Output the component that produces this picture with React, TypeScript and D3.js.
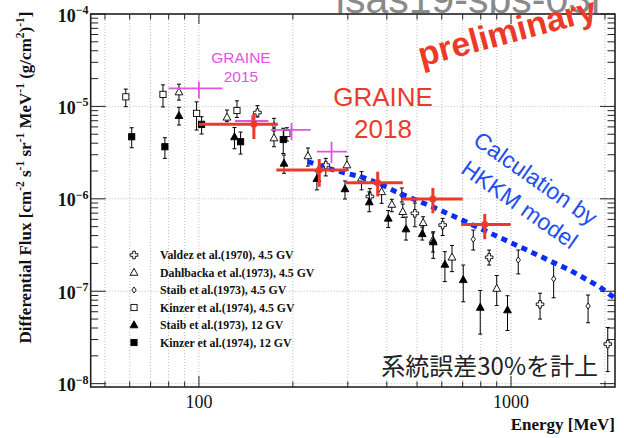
import React from "react";
import * as d3 from "d3";

const width = 624;
const height = 438;
const frame = { left: 90.7, right: 615, top: 14, bottom: 387 };

const energyRange = [45, 2154];
const fluxRange = [9.2e-9, 1e-4];
const xTickLabels = [100, 1000];
const yTickPowers = [-8, -7, -6, -5, -4];

// [E (MeV), flux, flux low, flux high]
const valdez = [
  [154, 8.59e-6, 7.68e-6, 1.02e-5],
  [255, 2.32e-6, 1.77e-6, 2.74e-6],
  [353, 1.06e-6, 9.2e-7, 1.29e-6],
  [492, 6.97e-7, 4.99e-7, 9.01e-7],
  [604, 5.2e-7, 4.01e-7, 6.15e-7],
  [851, 2.33e-7, 1.92e-7, 2.79e-7],
  [1239, 7.22e-8, 5.0e-8, 9.51e-8],
  [2042, 2.68e-8, 1.35e-8, 4.05e-8],
];
const dahlbacka = [
  [86.3, 1.43e-5, 1.17e-5, 1.74e-5],
  [123, 7.62e-6, 6.83e-6, 9.14e-6],
  [174, 4.55e-6, 3.66e-6, 5.83e-6],
  [223.5, 2.91e-6, 2.26e-6, 3.55e-6],
  [298, 2.32e-6, 2.05e-6, 2.88e-6],
  [332, 1.67e-6, 1.25e-6, 1.97e-6],
  [385, 1.19e-6, 8.94e-7, 1.41e-6],
  [415, 8.68e-7, 7.25e-7, 9.88e-7],
  [450, 7.25e-7, 6.28e-7, 8.79e-7],
  [523, 5.51e-7, 4.24e-7, 6.4e-7],
  [562, 3.58e-7, 2.66e-7, 4.27e-7],
  [647, 2.33e-7, 1.63e-7, 3.13e-7],
  [900, 1.07e-7, 7.0e-8, 1.48e-7],
];
const staib45 = [
  [174, 6.29e-6, 5.42e-6, 7.43e-6],
  [447, 1.1e-6, 9.23e-7, 1.31e-6],
  [757, 3.65e-7, 2.79e-7, 4.59e-7],
  [1055, 2.18e-7, 1.54e-7, 2.79e-7],
  [1370, 1.36e-7, 8.49e-8, 1.95e-7],
  [1766, 6.92e-8, 4.56e-8, 9.1e-8],
];
const kinzer45 = [
  [58.3, 1.27e-5, 9.93e-6, 1.54e-5],
  [76.7, 1.35e-5, 9.86e-6, 1.71e-5],
  [98.3, 8.41e-6, 5.55e-6, 1.12e-5],
  [132.4, 9.03e-6, 7.59e-6, 1.15e-5],
  [191.4, 5.09e-6, 4.22e-6, 5.88e-6],
];
const staib12 = [
  [86.3, 7.93e-6, 6.29e-6, 9.78e-6],
  [130, 4.67e-6, 3.48e-6, 5.91e-6],
  [187.3, 2.42e-6, 1.89e-6, 2.98e-6],
  [238.8, 1.65e-6, 1.25e-6, 1.97e-6],
  [293.8, 1.28e-6, 9.95e-7, 1.56e-6],
  [351.5, 9.23e-7, 7.25e-7, 1.19e-6],
  [404.3, 6.15e-7, 4.89e-7, 7.47e-7],
  [460.8, 4.71e-7, 3.58e-7, 6.35e-7],
  [519.6, 4.18e-7, 3.58e-7, 4.95e-7],
  [563.6, 3.41e-7, 2.27e-7, 4.4e-7],
  [614, 1.95e-7, 1.27e-7, 2.68e-7],
  [703, 1.33e-7, 7.69e-8, 1.92e-7],
  [797, 6.67e-8, 3.44e-8, 1.02e-7],
  [974.5, 6.26e-8, 3.76e-8, 8.94e-8],
];
const kinzer12 = [
  [60.9, 4.7e-6, 3.57e-6, 5.88e-6],
  [77.8, 3.66e-6, 2.74e-6, 4.58e-6],
  [102, 6.4e-6, 5.03e-6, 7.74e-6],
  [136, 4.15e-6, 3.05e-6, 5.28e-6],
  [186.3, 4.38e-6, 3.09e-6, 5.8e-6],
];

// [E, E low, E high, flux, flux low, flux high]
const graine2015 = [
  [100, 80, 119, 1.57e-5, 1.22e-5, 1.85e-5],
  [148, 130.5, 167, 6.95e-6, 6.0e-6, 8.0e-6],
  [198, 170, 228, 5.56e-6, 4.33e-6, 6.61e-6],
  [266, 239, 298, 3.24e-6, 2.44e-6, 4.15e-6],
];
const graine2018 = [
  [150, 100, 179, 6.4e-6, 4.44e-6, 8.5e-6],
  [243, 177, 300, 2.05e-6, 1.35e-6, 2.7e-6],
  [374, 296, 450, 1.49e-6, 1.06e-6, 1.96e-6],
  [562, 447, 700, 9.96e-7, 7.0e-7, 1.31e-6],
  [824, 692, 998, 5.27e-7, 3.65e-7, 6.84e-7],
];

// HKKM model curve
const hkkmE = [223, 257, 289, 333, 380, 431, 562, 686, 857, 1151, 1546, 1928, 2154];
const hkkmF = [2.53e-6, 2.16e-6, 1.93e-6, 1.72e-6, 1.45e-6, 1.18e-6, 8.15e-7, 6.04e-7, 4.26e-7, 2.69e-7, 1.69e-7, 1.11e-7, 8.4e-8];

const legendLabels = [
  "Valdez et al.(1970), 4.5 GV",
  "Dahlbacka et al.(1973), 4.5 GV",
  "Staib et al.(1973), 4.5 GV",
  "Kinzer et al.(1974), 4.5 GV",
  "Staib et al.(1973), 12 GV",
  "Kinzer et al.(1974), 12 GV",
];
const seriesKinds = ["cross", "openTri", "diamond", "openSq", "tri", "sq"];
const seriesData = [valdez, dahlbacka, staib45, kinzer45, staib12, kinzer12];

const serif = "'Liberation Serif', 'DejaVu Serif', serif";
const sans = "'Liberation Sans', Arial, sans-serif";
const red = "#ec3a2a";
const magenta = "#e552e5";
const blue = "#0a2cf5";

function Marker({ kind, x, y }: { kind: string; x: number; y: number }) {
  const s = "#000";
  if (kind === "cross") {
    const a = 1.3, b = 3.8;
    const d = `M${x - a},${y - b}h${2 * a}v${b - a}h${b - a}v${2 * a}h${-(b - a)}v${b - a}h${-2 * a}v${-(b - a)}h${-(b - a)}v${-2 * a}h${b - a}z`;
    return <path d={d} fill="#fff" stroke={s} strokeWidth={0.9} />;
  }
  if (kind === "openTri" || kind === "tri") {
    const d = `M${x},${y - 4.2}L${x + 3.9},${y + 2.8}L${x - 3.9},${y + 2.8}Z`;
    return <path d={d} fill={kind === "tri" ? s : "#fff"} stroke={s} strokeWidth={0.9} />;
  }
  if (kind === "diamond") {
    const d = `M${x},${y - 3}L${x + 2.2},${y}L${x},${y + 3}L${x - 2.2},${y}Z`;
    return <path d={d} fill="#fff" stroke={s} strokeWidth={0.9} />;
  }
  const h = 3.1;
  return (
    <rect x={x - h} y={y - h} width={2 * h} height={2 * h}
      fill={kind === "sq" ? s : "#fff"} stroke={s} strokeWidth={0.9} />
  );
}

export default function App() {
  const x = d3.scaleLog().domain(energyRange).range([frame.left, frame.right]);
  const y = d3.scaleLog().domain(fluxRange).range([frame.bottom, frame.top]);

  const xTicks = x.ticks();
  const yTicks = y.ticks().filter((v) => v >= fluxRange[0] && v <= fluxRange[1]);
  const isDecade = (v: number) => Math.abs(Math.log10(v) - Math.round(Math.log10(v))) < 1e-6;

  const hkkmLine = d3
    .line<number>()
    .x((_, i) => x(hkkmE[i]))
    .y((_, i) => y(hkkmF[i]))(hkkmE);

  const grid = "#bdbdbd";

  return (
    <svg width={width} height={height} style={{ position: "absolute", left: 0, top: 0, background: "#fff" }}>
      <defs>
        <clipPath id="plot">
          <rect x={frame.left} y={frame.top} width={frame.right - frame.left} height={frame.bottom - frame.top} />
        </clipPath>
      </defs>
      <rect width={width} height={height} fill="#fff" />

      {/* grid */}
      {xTicks.map((t, i) => (
        <line key={"gx" + i} x1={x(t)} x2={x(t)} y1={frame.top} y2={frame.bottom}
          stroke={grid} strokeDasharray="1 2" strokeWidth={1} />
      ))}
      {yTicks.filter(isDecade).map((t, i) => (
        <line key={"gy" + i} x1={frame.left} x2={frame.right} y1={y(t)} y2={y(t)}
          stroke={grid} strokeDasharray="1 2" strokeWidth={1} />
      ))}

      {/* ticks */}
      {yTicks.map((t, i) => {
        const len = isDecade(t) ? 15 : 7.5;
        return (
          <g key={"ty" + i} stroke="#222" strokeWidth={1}>
            <line x1={frame.left} x2={frame.left + len} y1={y(t)} y2={y(t)} />
            <line x1={frame.right} x2={frame.right - len} y1={y(t)} y2={y(t)} />
          </g>
        );
      })}
      {xTicks.map((t, i) => {
        const major = isDecade(t);
        return (
          <g key={"tx" + i} stroke="#222" strokeWidth={1}>
            <line x1={x(t)} x2={x(t)} y1={frame.bottom} y2={frame.bottom - (major ? 11 : 5.5)} />
            <line x1={x(t)} x2={x(t)} y1={frame.top} y2={frame.top + (major ? 10 : 5.5)} />
          </g>
        );
      })}

      <rect x={frame.left} y={frame.top} width={frame.right - frame.left} height={frame.bottom - frame.top}
        fill="none" stroke="#222" strokeWidth={1.6} />

      {/* tick labels */}
      {yTickPowers.map((p) => (
        <text key={"ly" + p} x={88.5} y={y(Math.pow(10, p)) + 7.5} textAnchor="end"
          fontFamily={serif} fontWeight="bold" fontSize={18} fill="#111">
          10<tspan dy={-7.5} fontSize={12}>{"\u2212" + Math.abs(p)}</tspan>
        </text>
      ))}
      {xTickLabels.map((t) => (
        <text key={"lx" + t} x={x(t)} y={408} textAnchor="middle" fontFamily={serif} fontSize={18} fill="#111">
          {t}
        </text>
      ))}

      {/* axis titles */}
      <text x={615} y={430} textAnchor="end" fontFamily={serif} fontWeight="bold" fontSize={17} fill="#111">
        Energy [MeV]
      </text>
      <text transform="translate(30.5,177.5) rotate(-90)" textAnchor="middle" fontFamily={serif}
        fontWeight="bold" fontSize={17} fill="#111">
        Differential Flux [cm<tspan dy={-6.5} fontSize={11.5}>-2</tspan>
        <tspan dy={6.5}> s</tspan><tspan dy={-6.5} fontSize={11.5}>-1</tspan>
        <tspan dy={6.5}> sr</tspan><tspan dy={-6.5} fontSize={11.5}>-1</tspan>
        <tspan dy={6.5}> MeV</tspan><tspan dy={-6.5} fontSize={11.5}>-1</tspan>
        <tspan dy={6.5}> (g/cm</tspan><tspan dy={-6.5} fontSize={11.5}>2</tspan>
        <tspan dy={6.5}>)</tspan><tspan dy={-6.5} fontSize={11.5}>-1</tspan>
        <tspan dy={6.5}>]</tspan>
      </text>

      <g clipPath="url(#plot)">
        {/* previous measurements */}
        {seriesData.map((series, si) =>
          series.map((d, i) => {
            const cx = x(d[0]);
            const cy = y(d[1]);
            const yl = y(d[2]);
            const yh = y(d[3]);
            return (
              <g key={"s" + si + "-" + i}>
                <g stroke="#000" strokeWidth={1}>
                  <line x1={cx} x2={cx} y1={yh} y2={yl} />
                  <line x1={cx - 2} x2={cx + 2} y1={yh} y2={yh} />
                  <line x1={cx - 2} x2={cx + 2} y1={yl} y2={yl} />
                </g>
                <Marker kind={seriesKinds[si]} x={cx} y={cy} />
              </g>
            );
          })
        )}

        {/* HKKM */}
        <path d={hkkmLine || ""} fill="none" stroke={blue} strokeWidth={5} strokeDasharray="6 5" />

        {/* GRAINE 2015 */}
        {graine2015.map((d, i) => (
          <g key={"g15" + i} stroke={magenta} strokeWidth={1.8}>
            <line x1={x(d[1])} x2={x(d[2])} y1={y(d[3])} y2={y(d[3])} />
            <line x1={x(d[0])} x2={x(d[0])} y1={y(d[4])} y2={y(d[5])} />
          </g>
        ))}

        {/* GRAINE 2018 */}
        {graine2018.map((d, i) => (
          <g key={"g18" + i}>
            <line x1={x(d[1])} x2={x(d[2])} y1={y(d[3])} y2={y(d[3])} stroke={red} strokeWidth={3} />
            <line x1={x(d[0])} x2={x(d[0])} y1={y(d[4])} y2={y(d[5])} stroke={red} strokeWidth={3} />
            <circle cx={x(d[0])} cy={y(d[3])} r={3.5} fill={red} />
          </g>
        ))}
      </g>

      {/* legend */}
      {legendLabels.map((label, i) => {
        const ly = 255 + i * 17.5;
        return (
          <g key={"lg" + i}>
            <Marker kind={seriesKinds[i]} x={134} y={ly} />
            <text x={160} y={ly + 4} fontFamily={serif} fontWeight="bold" fontSize={11.8} fill="#111">
              {label}
            </text>
          </g>
        );
      })}

      {/* annotations */}
      <text x={468} y={13} textAnchor="middle" fontFamily={sans} fontSize={41} fill="#8a8a8a">
        isas19-sbs-03l
      </text>
      <text transform="translate(510,43) rotate(-15)" textAnchor="middle" fontFamily={sans}
        fontWeight="bold" fontSize={34} fill={red}>
        preliminary
      </text>
      <text x={241} y={63} textAnchor="middle" fontFamily={sans} fontSize={15.5} fill={magenta}>GRAINE</text>
      <text x={241} y={82} textAnchor="middle" fontFamily={sans} fontSize={15.5} fill={magenta}>2015</text>
      <text x={383} y={106} textAnchor="middle" fontFamily={sans} fontSize={26} fill={red}>GRAINE</text>
      <text x={383} y={138} textAnchor="middle" fontFamily={sans} fontSize={26} fill={red}>2018</text>
      <text transform="translate(531,185) rotate(35)" textAnchor="middle" fontFamily={sans}
        fontSize={23} fill="#1f4ff0">
        Calculation by
      </text>
      <text transform="translate(515,211) rotate(35)" textAnchor="middle" fontFamily={sans}
        fontSize={23} fill="#1f4ff0">
        HKKM model
      </text>
      <text x={598} y={375} textAnchor="end" fontFamily="'Noto Sans CJK JP', sans-serif" fontSize={24} fill="#222">
        系統誤差30%を計上
      </text>
    </svg>
  );
}
